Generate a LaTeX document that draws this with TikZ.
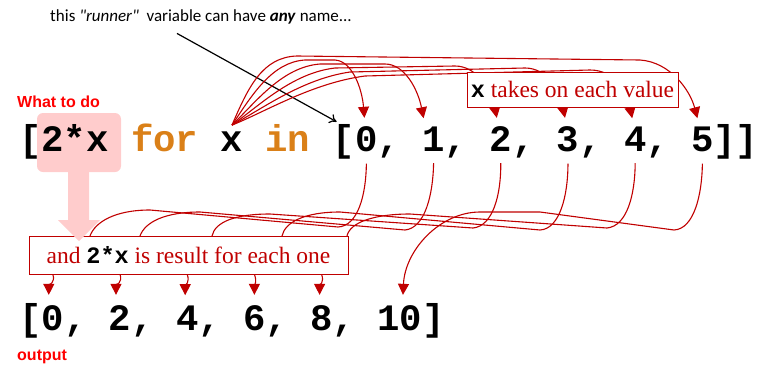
\documentclass[tikz,border=0pt]{standalone}
\usepackage{fontspec}
\setmainfont{Liberation Serif}
\setsansfont{Liberation Sans}
\setmonofont{Liberation Mono}
\newfontfamily\notefont{Carlito}
\usetikzlibrary{arrows.meta}

\definecolor{lineRed}{RGB}{192,0,0}
\definecolor{labelRed}{RGB}{255,0,0}
\definecolor{kwOrange}{RGB}{218,128,24}
\definecolor{pinkFill}{RGB}{255,204,204}

\tikzset{
  code/.style={font=\ttfamily\bfseries\fontsize{37.3}{40}\selectfont, inner sep=0pt, anchor=base west},
  flow/.style={lineRed, line width=1.1pt, -{Triangle[width=11pt,length=11pt]}},
  wire/.style={lineRed, line width=1.1pt},
  note/.style={draw=lineRed, fill=white, line width=0.6pt, text=lineRed, inner sep=0pt,
               font=\fontsize{23.5}{26}\selectfont},
  tag/.style={labelRed, font=\sffamily\bfseries\fontsize{16}{18}\selectfont, anchor=west, inner sep=0pt},
}

\begin{document}
\begin{tikzpicture}[x=1pt, y=-1pt]
     \useasboundingbox (0,0) rectangle (769,367);

     % highlight
     \fill[pinkFill, rounded corners=6pt] (37,113) rectangle (121,172);

     % comprehension
     \node[code] (open) at (19,151) {[};
     \node[code] (expr) at (41.4,151) {2*x};
     \node[code, text=kwOrange] (kwfor) at (131,151) {for};
     \node[code] (var) at (220.6,151) {x};
     \node[code, text=kwOrange] (kwin) at (265.4,151) {in};
     \node[code] (lst) at (332.6,151) {[};
     \node[code] (in0) at (355,151) {0};
     \node[code] (cm0) at (377.4,151) {,};
     \node[code] (in1) at (422.2,151) {1};
     \node[code] (cm1) at (444.6,151) {,};
     \node[code] (in2) at (489.4,151) {2};
     \node[code] (cm2) at (511.8,151) {,};
     \node[code] (in3) at (556.6,151) {3};
     \node[code] (cm3) at (579,151) {,};
     \node[code] (in4) at (623.8,151) {4};
     \node[code] (cm4) at (646.2,151) {,};
     \node[code] (in5) at (691,151) {5};
     \node[code] (cls) at (713.4,151) {]]};

     % output
     \node[code] (oopen) at (19,330) {[};
     \node[code] (out0) at (41.4,330) {0};
     \node[code] (oc0) at (63.8,330) {,};
     \node[code] (out1) at (108.6,330) {2};
     \node[code] (oc1) at (131,330) {,};
     \node[code] (out2) at (175.8,330) {4};
     \node[code] (oc2) at (198.2,330) {,};
     \node[code] (out3) at (243,330) {6};
     \node[code] (oc3) at (265.4,330) {,};
     \node[code] (out4) at (310.2,330) {8};
     \node[code] (oc4) at (332.6,330) {,};
     \node[code] (out5) at (377.4,330) {10};
     \node[code] (oclose) at (422.2,330) {]};

     % labels
     \node[tag] (todo) at (17,102) {What to do};
     \node[tag] (outlbl) at (17,357) {output};
     \node[font=\notefont\fontsize{17}{20}\selectfont, inner sep=0pt] (runner) at (201,17)
          {this \textit{"runner"}\ \ variable can have \textbf{\textit{any}} name...};
     \draw[-{To[length=7pt,width=10pt]}, line width=1.2pt]
          ([xshift=-24pt,yshift=-9pt]runner.south) -- ([xshift=4pt,yshift=2pt]lst.north west);

     % x runs over the list
     \draw[flow] ([yshift=6pt]var.north) .. controls (252,95) and (272,62) .. (305,60)
          -- (335,60) .. controls (352,61) and (362,88) .. ([xshift=-2pt,yshift=8pt]in0.north);
     \draw[flow] ([yshift=6pt]var.north) .. controls (256,102) and (282,67) .. (320,64)
          -- (385,64) .. controls (405,64) and (418,90) .. ([xshift=-10pt,yshift=8pt]in1.north);
     \draw[flow] ([yshift=6pt]var.north) .. controls (259,106) and (292,73) .. (335,68)
          -- (455,66) .. controls (478,66) and (492,92) .. ([xshift=-4pt,yshift=8pt]in2.north);
     \draw[flow] ([yshift=6pt]var.north) .. controls (262,109) and (302,79) .. (350,72)
          -- (525,68) .. controls (548,68) and (560,92) .. ([xshift=-3pt,yshift=8pt]in3.north);
     \draw[flow] ([yshift=6pt]var.north) .. controls (265,112) and (312,83) .. (365,76)
          -- (590,70) .. controls (615,70) and (627,92) .. ([xshift=-3pt,yshift=8pt]in4.north);
     \draw[flow] ([yshift=6pt]var.north) .. controls (248,88) and (262,57) .. (297,56)
          -- (640,60) .. controls (670,62) and (690,90) .. ([xshift=-5pt,yshift=8pt]in5.north);

     \node[note, minimum width=211pt, minimum height=35pt] (vals) at (572.5,89.5)
          {{\ttfamily\bfseries\color{black}x} takes on each value};

     % each value into 2*x
     \coordinate (e0) at (90,236);
     \coordinate (e1) at (140,236);
     \coordinate (e2) at (212,236);
     \coordinate (e3) at (282,236);
     \coordinate (e4) at (347,236);

     \draw[wire] ([yshift=-12pt]in0.south) .. controls (366,195) and (358,226) .. (338,227)
          -- (150,210) .. controls (115,210) and (95,222) .. (e0);
     \draw[wire] ([yshift=-12pt]in1.south) .. controls (433,195) and (425,228) .. (405,230)
          -- (200,212) .. controls (165,212) and (145,222) .. (e1);
     \draw[wire] ([yshift=-12pt]in2.south) .. controls (501,195) and (493,226) .. (473,228)
          -- (270,214) .. controls (235,214) and (215,222) .. (e2);
     \draw[wire] ([yshift=-12pt]in3.south) .. controls (568,195) and (560,229) .. (540,230)
          -- (340,212) .. controls (305,212) and (285,222) .. (e3);
     \draw[wire] ([yshift=-12pt]in4.south) .. controls (635,195) and (627,226) .. (607,228)
          -- (410,214) .. controls (375,214) and (350,222) .. (e4);
     \draw[flow] ([yshift=-12pt]in5.south) .. controls (702,195) and (694,229) .. (674,230)
          -- (540,212) -- (480,212) .. controls (440,212) and (405,250) .. ([xshift=3pt,yshift=10pt]out5.north);

     \node[note, minimum width=319pt, minimum height=38pt] (res) at (188.5,255)
          {and {\ttfamily\bfseries\color{black}2*x} is result for each one};

     % results
     \draw[flow] (out0 |- res.south) .. controls +(3,8) and +(0,-9) .. ([xshift=-4pt,yshift=10pt]out0.north);
     \draw[flow] (out1 |- res.south) .. controls +(3,8) and +(0,-9) .. ([xshift=-4pt,yshift=10pt]out1.north);
     \draw[flow] (out2 |- res.south) .. controls +(3,8) and +(0,-9) .. ([xshift=-2pt,yshift=10pt]out2.north);
     \draw[flow] (out3 |- res.south) .. controls +(3,8) and +(0,-9) .. ([xshift=0pt,yshift=10pt]out3.north);
     \draw[flow] (out4 |- res.south) .. controls +(3,8) and +(0,-9) .. ([xshift=-2pt,yshift=10pt]out4.north);

     % pink arrow
     \fill[pinkFill] (68,172) -- (89,172) -- (89,220) -- (100,220) -- (79,241) -- (58,220) -- (68,220) -- cycle;

\end{tikzpicture}
\end{document}
